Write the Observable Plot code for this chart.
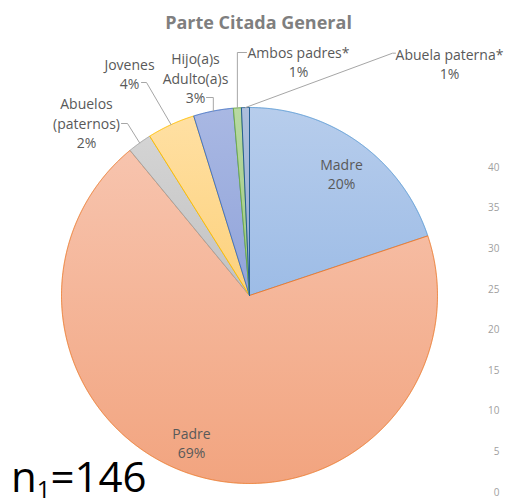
<!DOCTYPE html>
<html>
<head>
<meta charset="utf-8">
<script src="https://cdn.jsdelivr.net/npm/d3@7"></script>
<script src="https://cdn.jsdelivr.net/npm/@observablehq/plot@0.6"></script>
<style>
  html, body { margin: 0; padding: 0; background: #fff; }
  #chart svg { display: block; }
</style>
</head>
<body>
<div id="chart"></div>
<script>
// ---------- data ----------
const title = "Parte Citada General";
const sampleN = 146;
const categories = ["Madre", "Padre", "Abuelos (paternos)", "Jovenes", "Hijo(a)s Adulto(a)s", "Ambos padres*", "Abuela paterna*"];
const labelLines = [["Madre"], ["Padre"], ["Abuelos", "(paternos)"], ["Jovenes"], ["Hijo(a)s", "Adulto(a)s"], ["Ambos padres*"], ["Abuela paterna*"]];
const counts = [29, 101, 3, 6, 5, 1, 1];
const percents = [20, 69, 2, 4, 3, 1, 1];
const yTicks = [0, 5, 10, 15, 20, 25, 30, 35, 40];

// ---------- styles ----------
const fillTop =    ["#b7cdec", "#f7c4ae", "#d4d4d4", "#ffe0a3", "#a9b8e3", "#b8d9a2", "#adbfdc"];
const fillBottom = ["#9dbce6", "#f2a47f", "#c2c2c2", "#fdd17c", "#91a4da", "#9fca83", "#95abd1"];
const strokes =    ["#5b9bd5", "#ed7d31", "#a5a5a5", "#ffc000", "#4472c4", "#70ad47", "#255e91"];
const textColor = "#595959";
const font = "'Open Sans', 'Noto Sans', sans-serif";

// ---------- layout ----------
const W = 505, H = 504;
const cx = 249, cy = 295, R = 188;                  // pie center/radius (px)
const axisY0 = 492, axisY40 = 167;                  // right axis pixel range
const pxPerUnit = (axisY0 - axisY40) / 40;
const toY = p => (axisY0 - p) / pxPerUnit;          // pixel -> y units

// label block centers (px)
const labelPos = [[341, 172.5], [191, 442], [86, 122], [129, 72.5], [195, 77], [298, 61], [449, 62.7]];
// leader line start and elbow (px) for outside labels, index -> [start, elbow]
const leaderPos = {
  2: [[121, 123], [127, 123]],
  3: [[141, 82], [146, 82]],
  4: [[206, 97], [null, 97]],
  5: [[246, 52], [null, 52]],
  6: [[395, 52.7], [392, 52.7]]
};

// ---------- geometry ----------
const arcs = d3.pie().sort(null).value(d => d)(counts);
const pt = (a, r) => [cx + r * Math.sin(a), cy - r * Math.cos(a)];

const marks = [];

// gradient defs
marks.push(() => {
  const defs = d3.create("svg:defs");
  categories.forEach((c, i) => {
    const g = defs.append("linearGradient").attr("id", "grad" + i)
      .attr("x1", 0).attr("y1", 0).attr("x2", 0).attr("y2", 1);
    g.append("stop").attr("offset", "0%").attr("stop-color", fillTop[i]);
    g.append("stop").attr("offset", "100%").attr("stop-color", fillBottom[i]);
  });
  return defs.node();
});

arcs.forEach((a, i) => {
  const n = Math.max(2, Math.ceil((a.endAngle - a.startAngle) / 0.004));
  const pts = [[cx, cy]];
  for (let k = 0; k <= n; k++) {
    pts.push(pt(a.startAngle + (a.endAngle - a.startAngle) * k / n, R));
  }
  pts.push([cx, cy]);
  const data = pts.map(([x, y]) => ({x, y: toY(y)}));
  marks.push(Plot.line(data, {
    x: "x", y: "y", curve: "linear",
    fill: `url(#grad${i})`, stroke: strokes[i], strokeWidth: 1, strokeLinejoin: "round"
  }));
});

// leader lines
Object.entries(leaderPos).forEach(([k, [s, e]]) => {
  const a = arcs[+k];
  const mid = (a.startAngle + a.endAngle) / 2;
  const edge = pt(mid, R);
  const elbow = [e[0] == null ? edge[0] : e[0], e[1]];
  const data = [s, elbow, edge].map(([x, y]) => ({x, y: toY(y)}));
  marks.push(Plot.line(data, {x: "x", y: "y", stroke: "#a6a6a6", strokeWidth: 1}));
});

// labels
const labels = categories.map((c, i) => ({
  x: labelPos[i][0], y: toY(labelPos[i][1]),
  text: [...labelLines[i], percents[i] + "%"].join("\n")
}));
marks.push(Plot.text(labels, {
  x: "x", y: "y", text: "text", fill: textColor, fontSize: 14,
  lineHeight: 1.38, textAnchor: "middle", lineAnchor: "middle", fontFamily: font
}));

// title
marks.push(Plot.text([title], {
  x: () => 258, y: () => toY(23), text: d => d, fill: "#7f7f7f",
  fontSize: 18, fontWeight: "bold", textAnchor: "middle", lineAnchor: "middle", fontFamily: font
}));

// n1 annotation
marks.push(() => {
  const t = d3.create("svg:text")
    .attr("x", 11).attr("y", 492).attr("text-anchor", "start")
    .attr("font-family", font).attr("font-size", 42).attr("fill", "#000");
  t.append("tspan").text("n");
  t.append("tspan").attr("font-size", 24).attr("dy", 6).text("1");
  t.append("tspan").attr("dy", -6).text("=" + sampleN);
  return t.node();
});

// right axis
marks.push(Plot.axisY({
  anchor: "right", ticks: yTicks, tickSize: 0, tickPadding: 0,
  textAnchor: "end", fontSize: 10, fill: "#a0a0a0", label: null
}));

const chart = Plot.plot({
  width: W, height: H,
  marginLeft: 0, marginRight: 6, marginTop: 0, marginBottom: 0,
  x: {domain: [0, W - 6], axis: null},
  y: {domain: [0, 40], range: [axisY0, axisY40]},
  style: {fontFamily: font, background: "#fff", overflow: "visible"},
  marks
});
document.getElementById("chart").append(chart);
</script>
</body>
</html>
